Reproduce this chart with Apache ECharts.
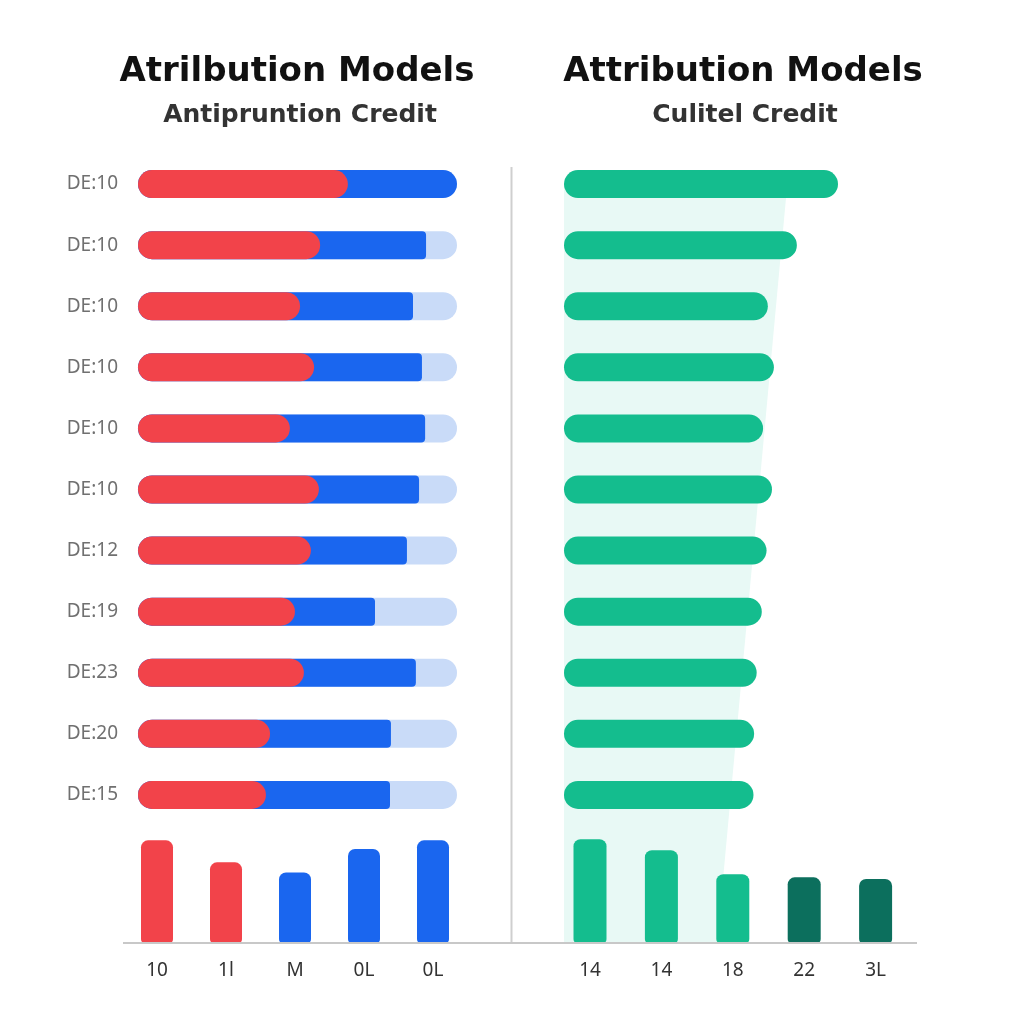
<!DOCTYPE html>
<html>
<head>
<meta charset="utf-8">
<script src="https://cdn.jsdelivr.net/npm/echarts@6/dist/echarts.min.js"></script>
<style>
  html, body { margin: 0; padding: 0; background: #fff; }
  #canvas { width: 1024px; height: 1024px; }
</style>
</head>
<body>
<div id="canvas"></div>
<script>
    // row labels (left axis)
    var rowLabels = ['DE:10', 'DE:10', 'DE:10', 'DE:10', 'DE:10', 'DE:10', 'DE:12', 'DE:19', 'DE:23', 'DE:20', 'DE:15'];
    // left panel: red credit, blue end (cumulative), track = 100
    var redCredit = [65.8, 57.1, 50.8, 55.2, 47.6, 56.7, 54.2, 49.2, 52.0, 41.4, 40.1];
    var blueCredit = [100, 90.3, 86.2, 89.0, 90.0, 88.1, 84.3, 74.3, 87.1, 79.3, 79.0];
    var trackMax = 100;
    // right panel: green credit
    var greenCredit = [85.9, 73.0, 63.9, 65.8, 62.4, 65.2, 63.5, 62.0, 60.4, 59.6, 59.4];
    // shaded trend band behind the green bars (top edge, bottom edge)
    var shadeEdge = [70.0, 48.0];

    // bottom bar charts
    var leftCats = ['10', '1l', 'M', '0L', '0L'];
    var leftVals = [93.3, 73.3, 64.2, 85.5, 93.3];
    var rightCats = ['14', '14', '18', '22', '3L'];
    var rightVals = [94.3, 84.3, 62.5, 59.7, 58.2];

    var RED = '#f2434a', BLUE = '#1a66ef', TRACK = '#c9dbf8';
    var GREEN = '#14bd8e', DARK_GREEN = '#0c6f5d', SHADE = '#e8f9f5';

    var chart = echarts.init(document.getElementById('canvas'));

    var rowTop = 153.5, rowH = 672;
    var titleFont = 'DejaVu Sans';

    chart.setOption({
        backgroundColor: '#ffffff',
        animation: false,
        textStyle: { fontFamily: 'Noto Sans' },
        title: [
            {
                text: 'Atrilbution Models', left: 292, top: 50, textAlign: 'center',
                textStyle: { fontFamily: titleFont, fontSize: 34, fontWeight: 'bold', color: '#111' }
            },
            {
                text: 'Antipruntion Credit', left: 295, top: 98, textAlign: 'center',
                textStyle: { fontFamily: titleFont, fontSize: 25, fontWeight: 'bold', color: '#333' }
            },
            {
                text: 'Attribution Models', left: 738, top: 50, textAlign: 'center',
                textStyle: { fontFamily: titleFont, fontSize: 34, fontWeight: 'bold', color: '#111' }
            },
            {
                text: 'Culitel Credit', left: 740, top: 98, textAlign: 'center',
                textStyle: { fontFamily: titleFont, fontSize: 25, fontWeight: 'bold', color: '#333' }
            }
        ],
        grid: [
            { left: 138, width: 319, top: rowTop, height: rowH },
            { left: 564, width: 319, top: rowTop, height: rowH },
            { left: 122.5, width: 345, top: 833, height: 110 },
            { left: 554.3, width: 357, top: 833, height: 110 },
            { left: 564, width: 319, top: 184, height: 759 }
        ],
        xAxis: [
            { gridIndex: 0, type: 'value', min: 0, max: trackMax, show: false },
            { gridIndex: 1, type: 'value', min: 0, max: trackMax, show: false },
            {
                gridIndex: 2, type: 'category', data: leftCats,
                axisLine: { show: false }, axisTick: { show: false },
                axisLabel: { color: '#333', fontSize: 19, margin: 18 }
            },
            {
                gridIndex: 3, type: 'category', data: rightCats,
                axisLine: { show: false }, axisTick: { show: false },
                axisLabel: { color: '#333', fontSize: 19, margin: 18 }
            },
            { gridIndex: 4, type: 'value', min: 0, max: trackMax, show: false }
        ],
        yAxis: [
            {
                gridIndex: 0, type: 'category', data: rowLabels, inverse: true,
                axisLine: { show: false }, axisTick: { show: false },
                axisLabel: { color: '#707070', fontSize: 19, margin: 20 }
            },
            {
                gridIndex: 1, type: 'category', data: rowLabels, inverse: true, show: false
            },
            { gridIndex: 2, type: 'value', min: 0, max: 100, show: false },
            { gridIndex: 3, type: 'value', min: 0, max: 100, show: false },
            {
                gridIndex: 4, type: 'category', data: ['a', 'b'], inverse: true,
                boundaryGap: false, show: false
            }
        ],
        series: [
            {
                type: 'line', xAxisIndex: 4, yAxisIndex: 4, z: 0,
                data: shadeEdge, symbol: 'none',
                lineStyle: { width: 0 },
                areaStyle: { color: SHADE, opacity: 1 }
            },
            {
                type: 'bar', xAxisIndex: 0, yAxisIndex: 0, barWidth: 28, barGap: '-100%',
                data: rowLabels.map(function () { return trackMax; }),
                itemStyle: { color: TRACK, borderRadius: 14 }
            },
            {
                type: 'bar', xAxisIndex: 0, yAxisIndex: 0, barWidth: 28, barGap: '-100%',
                data: blueCredit.map(function (v) {
                    var r = v >= trackMax ? 14 : 4;
                    return { value: v, itemStyle: { borderRadius: [14, r, r, 14] } };
                }),
                itemStyle: { color: BLUE }
            },
            {
                type: 'bar', xAxisIndex: 0, yAxisIndex: 0, barWidth: 28, barGap: '-100%',
                data: redCredit,
                itemStyle: { color: RED, borderRadius: 14 }
            },
            {
                type: 'bar', xAxisIndex: 1, yAxisIndex: 1, barWidth: 28, z: 3,
                data: greenCredit,
                itemStyle: { color: GREEN, borderRadius: 14 }
            },
            {
                type: 'bar', xAxisIndex: 2, yAxisIndex: 2, barWidth: 32,
                data: leftVals.map(function (v, i) {
                    return { value: v, itemStyle: { color: i < 2 ? RED : BLUE } };
                }),
                itemStyle: { borderRadius: [7, 7, 4, 4] }
            },
            {
                type: 'bar', xAxisIndex: 3, yAxisIndex: 3, barWidth: 33, z: 3,
                data: rightVals.map(function (v, i) {
                    return { value: v, itemStyle: { color: i < 3 ? GREEN : DARK_GREEN } };
                }),
                itemStyle: { borderRadius: [7, 7, 4, 4] }
            }
        ],
        graphic: [
            {
                type: 'line', z: 10,
                shape: { x1: 511.5, y1: 167, x2: 511.5, y2: 943 },
                style: { stroke: '#cfcfcf', lineWidth: 2 }
            },
            {
                type: 'line', z: 10,
                shape: { x1: 123, y1: 943, x2: 917, y2: 943 },
                style: { stroke: '#c8c8c8', lineWidth: 2 }
            }
        ]
    });
</script>
</body>
</html>
